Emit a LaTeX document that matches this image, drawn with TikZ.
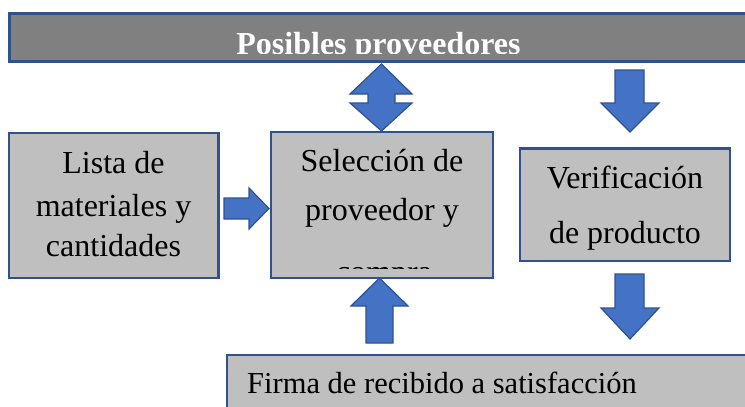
\documentclass[tikz,border=0pt]{standalone}
\usepackage{fontspec}
\setmainfont{Liberation Serif}
\definecolor{bord}{HTML}{2F528F}
\definecolor{boxgray}{HTML}{BFBFBF}
\definecolor{bargray}{HTML}{808080}
\definecolor{arrowblue}{HTML}{4472C4}
\begin{document}
\begin{tikzpicture}[x=1pt,y=-1pt,
  box/.style={draw=bord, line width=2.4pt, fill=boxgray},
  lbl/.style={anchor=base, inner sep=0pt, font=\fontsize{32}{38}\selectfont},
  blockarrow/.style={draw=bord, line width=1.2pt, fill=arrowblue, line join=miter}]
\useasboundingbox (0,0) rectangle (745,407);
\clip (0,0) rectangle (745,407);

% top bar
\fill[bargray] (9,13.5) rectangle (760,61);
\begin{scope}
  \clip (9,13.5) rectangle (760,53);
  \node[lbl, font=\bfseries\fontsize{32}{38}\selectfont, text=white] (title) at (378.5,54.5) {Posibles proveedores};
\end{scope}
\draw[bord, line width=3pt] (9,13.5) rectangle (760,61);

% boxes
\draw[box] (8.7,133) rectangle (218.3,278);
\node[lbl] (l1) at (113.5,173.3) {Lista de};
\node[lbl] (l2) at (113.5,216.7) {materiales y};
\node[lbl] (l3) at (113.5,256.7) {cantidades};

\draw[box] (271,132) rectangle (493,278);
\node[lbl] (s1) at (382,171.7) {Selección de};
\node[lbl] (s2) at (382,220) {proveedor y};
\begin{scope}
  \clip (272,265.8) rectangle (492,268.5);
  \node[lbl] (s3) at (384,282) {compra};
\end{scope}

\draw[box] (520,148.3) rectangle (730,261);
\node[lbl] (v1) at (625,188.3) {Verificación};
\node[lbl] (v2) at (625,243.3) {de producto};

\draw[box] (227,354.7) rectangle (760,430);
\node[lbl, anchor=base west, font=\fontsize{30.5}{36}\selectfont] (f1) at (247,393.3) {Firma de recibido a satisfacción};

% block arrows
\draw[blockarrow] (381.5,64) -- (412,94) -- (395,94) -- (395,103) -- (412,103) -- (381.5,131)
  -- (350,103) -- (368,103) -- (368,94) -- (350,94) -- cycle;
\draw[blockarrow] (224,198) -- (249,198) -- (249,188) -- (269,208.5) -- (249,229) -- (249,219) -- (224,219) -- cycle;
\draw[blockarrow] (379.5,278) -- (408,306) -- (393,306) -- (393,343) -- (366,343) -- (366,306) -- (351,306) -- cycle;
\draw[blockarrow] (615,70) -- (644,70) -- (644,103) -- (659,103) -- (630,132) -- (601,103) -- (615,103) -- cycle;
\draw[blockarrow] (615,274) -- (644,274) -- (644,308) -- (659,308) -- (630,339) -- (601,308) -- (615,308) -- cycle;
\end{tikzpicture}
\end{document}
